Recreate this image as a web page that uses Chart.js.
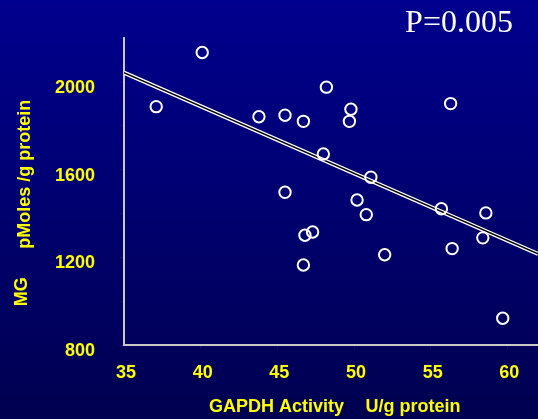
<!DOCTYPE html>
<html>
<head>
<meta charset="utf-8">
<script src="https://cdn.jsdelivr.net/npm/chart.js@4"></script>
<style>
  html, body { margin: 0; padding: 0; background: #000070; }
  canvas { display: block; }
</style>
</head>
<body>
<canvas id="chart" width="538" height="419"></canvas>
<script>
// GAPDH activity (U/g protein) against MG (pMoles/g protein)
const gapdh = [37.1, 40.1, 43.8, 45.5, 46.7, 48.2, 49.8, 49.7, 56.3, 48.0, 45.5, 51.1,
               50.2, 50.8, 55.7, 58.6, 58.4, 56.4, 52.0, 46.8, 47.3, 46.7, 59.7];
const mg = [1888, 2135, 1842, 1849, 1821, 1977, 1876, 1821, 1902, 1672, 1497, 1566,
            1462, 1395, 1422, 1403, 1289, 1240, 1212, 1301, 1316, 1165, 922];

// regression line at both ends of the axis
const fitX = [35, 62];
const fitY = [2043, 1216];

const xTicks = [35, 40, 45, 50, 55, 60];
const yTicks = [800, 1200, 1600, 2000];
const yMinorTicks = [800, 1000, 1200, 1400, 1600, 1800, 2000, 2200];

const pText = 'P=0.005';
const xTitle = ['GAPDH Activity', 'U/g protein'];
const yTitle = ['MG', 'pMoles /g protein'];

const yellow = '#ffff00';
const tickFont = { family: 'Arial, "Liberation Sans", sans-serif', size: 18, weight: 'bold' };

const background = {
  id: 'background',
  beforeDraw(chart) {
    const { ctx, width, height } = chart;
    const g = ctx.createLinearGradient(0, 0, 0, height);
    g.addColorStop(0, '#00008e');
    g.addColorStop(1, '#000050');
    ctx.save();
    ctx.fillStyle = g;
    ctx.fillRect(0, 0, width, height);
    ctx.restore();
  }
};

// axis titles and the P value
const labels = {
  id: 'labels',
  afterDraw(chart) {
    const { ctx, chartArea: a } = chart;
    ctx.save();
    ctx.fillStyle = yellow;
    ctx.font = 'bold 18px Arial, "Liberation Sans", sans-serif';
    ctx.textBaseline = 'alphabetic';
    ctx.textAlign = 'left';
    ctx.fillText(xTitle[0], a.left + 85, a.bottom + 67.3);
    ctx.fillText(xTitle[1], a.left + 241.5, a.bottom + 67.3);

    ctx.textAlign = 'center';
    ctx.save();
    ctx.translate(a.left - 94.5, a.top + 135.9);
    ctx.rotate(-Math.PI / 2);
    ctx.fillText(yTitle[1], 0, 0);
    ctx.restore();
    ctx.save();
    ctx.translate(a.left - 97, a.top + 253.4);
    ctx.rotate(-Math.PI / 2);
    ctx.fillText(yTitle[0], 0, 0);
    ctx.restore();

    ctx.fillStyle = '#ffffff';
    ctx.font = '32px "Liberation Serif", "Times New Roman", serif';
    ctx.fillText(pText, 459, 32);
    ctx.restore();
  }
};

new Chart(document.getElementById('chart'), {
  data: {
    datasets: [
      {
        type: 'line',
        data: fitX.map((x, i) => ({ x, y: fitY[i] })),
        borderColor: '#ffffff',
        borderWidth: 4,
        pointRadius: 0,
        order: 3
      },
      {
        type: 'line',
        data: fitX.map((x, i) => ({ x, y: fitY[i] })),
        borderColor: '#000010',
        borderWidth: 1.4,
        pointRadius: 0,
        order: 2
      },
      {
        type: 'scatter',
        data: gapdh.map((x, i) => ({ x, y: mg[i] })),
        borderColor: '#ffffff',
        backgroundColor: 'rgba(0,0,0,0)',
        borderWidth: 2,
        pointRadius: 5.7,
        order: 1
      }
    ]
  },
  options: {
    responsive: false,
    animation: false,
    devicePixelRatio: 1,
    layout: { autoPadding: false, padding: { top: 38.3, right: 0, left: 0, bottom: 0 } },
    plugins: { legend: { display: false }, tooltip: { enabled: false } },
    scales: {
      x: {
        type: 'linear',
        min: 35,
        max: 62,
        afterFit: s => { s.height = 74; s.paddingRight = 0; s.paddingLeft = 0; },
        afterBuildTicks: s => { s.ticks = xTicks.map(v => ({ value: v })); },
        border: { display: true, color: '#c8c8c8', width: 2 },
        grid: { display: true, drawOnChartArea: false, drawTicks: true, tickLength: 4, color: '#10106a' },
        ticks: { color: yellow, font: tickFont, padding: 13, labelOffset: 2, maxRotation: 0 }
      },
      y: {
        type: 'linear',
        min: 800,
        max: 2200,
        afterFit: s => { s.width = 124; s.paddingTop = 0; s.paddingBottom = 0; },
        afterBuildTicks: s => { s.ticks = yMinorTicks.map(v => ({ value: v })); },
        border: { display: true, color: '#c8c8c8', width: 2 },
        grid: { display: true, drawOnChartArea: false, drawTicks: true, tickLength: 4, color: '#10106a' },
        ticks: {
          color: yellow,
          font: tickFont,
          padding: 25,
          labelOffset: 6,
          callback: v => yTicks.includes(v) ? String(v) : ''
        }
      }
    }
  },
  plugins: [background, labels]
});
</script>
</body>
</html>
